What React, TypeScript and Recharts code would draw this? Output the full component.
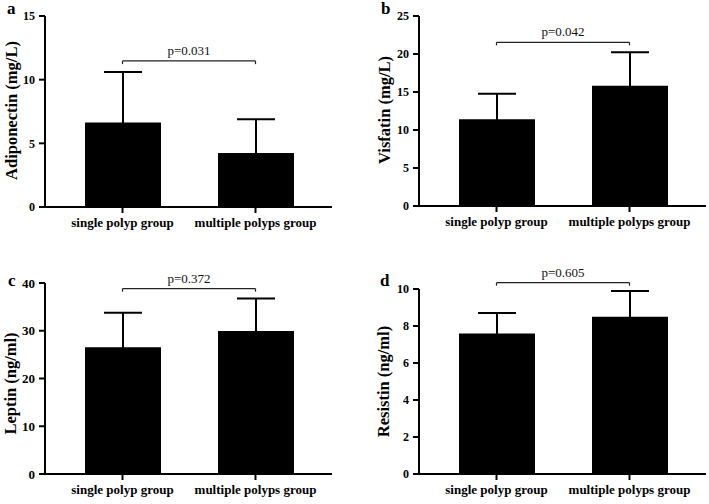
import { BarChart, Bar, XAxis, YAxis, ErrorBar, ReferenceLine } from "recharts";

// categories shared by all four panels
const groups = ["single polyp group", "multiple polyps group"];

// panel a
const adiponectinMean = [6.63, 4.25];
const adiponectinSd = [3.97, 2.65];
const adiponectinTicks = [0, 5, 10, 15];

// panel b
const visfatinMean = [11.4, 15.83];
const visfatinSd = [3.38, 4.39];
const visfatinTicks = [0, 5, 10, 15, 20, 25];

// panel c
const leptinMean = [26.57, 29.93];
const leptinSd = [7.21, 6.85];
const leptinTicks = [0, 10, 20, 30, 40];

// panel d
const resistinMean = [7.6, 8.5];
const resistinSd = [1.1, 1.39];
const resistinTicks = [0, 2, 4, 6, 8, 10];

// p values and bracket heights (in axis units)
const pValues = ["p=0.031", "p=0.042", "p=0.372", "p=0.605"];
const bracketY = [11.47, 21.54, 38.81, 10.34];
const bracketDrop = [0.25, 0.4, 0.63, 0.16];

const FONT = "'Liberation Serif', 'Times New Roman', serif";

type PanelProps = {
  label: string;
  means: number[];
  sds: number[];
  ticks: number[];
  idx: number;
  left: number;
  top: number;
  width: number;
  axisW: number;
  margin: { top: number; right: number; bottom: number; left: number };
  tickSize: number;
  labelX: number;
  labelShift: number;
};

function Panel(p: PanelProps) {
  const data = groups.map((g, i) => ({ name: g, value: p.means[i], sd: p.sds[i] }));
  const yTop = bracketY[p.idx];
  const yDrop = yTop - bracketDrop[p.idx];
  const max = p.ticks[p.ticks.length - 1];

  return (
    <div style={{ position: "absolute", left: p.left, top: p.top }}>
      <BarChart width={p.width} height={252} data={data} margin={p.margin}>
        <XAxis
          dataKey="name"
          height={30}
          padding={{ left: 11, right: 10 }}
          axisLine={{ stroke: "#000", strokeWidth: 2 }}
          tickLine={{ stroke: "#000", strokeWidth: 2 }}
          tickSize={6}
          tickMargin={5}
          interval={0}
          tick={{ fill: "#000", fontSize: 13, fontWeight: "bold", fontFamily: FONT }}
        />
        <YAxis
          width={p.axisW}
          domain={[0, max]}
          ticks={p.ticks}
          interval={0}
          axisLine={{ stroke: "#000", strokeWidth: 2 }}
          tickLine={{ stroke: "#000", strokeWidth: 2 }}
          tickSize={6}
          tickMargin={4}
          tick={{ fill: "#000", fontSize: p.tickSize, fontWeight: "bold", fontFamily: FONT }}
          label={{
            content: (props: any) => {
              const vb = props.viewBox;
              const cx = p.labelX;
              const cy = vb.y + vb.height / 2 + p.labelShift;
              return (
                <text
                  x={cx}
                  y={cy}
                  transform={`rotate(-90, ${cx}, ${cy})`}
                  textAnchor="middle"
                  dominantBaseline="central"
                  fill="#000"
                  fontSize={16.5}
                  fontWeight="bold"
                  fontFamily={FONT}
                >
                  {p.label}
                </text>
              );
            },
          }}
        />
        <Bar dataKey="value" fill="#000" barSize={76} isAnimationActive={false}>
          <ErrorBar dataKey="sd" width={19} strokeWidth={2} stroke="#000" direction="y" />
        </Bar>
        <ReferenceLine
          ifOverflow="visible"
          segment={[
            { x: groups[0], y: yTop },
            { x: groups[1], y: yTop },
          ]}
          stroke="#222"
          strokeWidth={1.2}
          label={{
            value: pValues[p.idx],
            position: "top",
            offset: 6,
            fill: "#111",
            fontSize: 13,
            fontFamily: FONT,
          }}
        />
        <ReferenceLine
          ifOverflow="visible"
          segment={[
            { x: groups[0], y: yTop },
            { x: groups[0], y: yDrop },
          ]}
          stroke="#222"
          strokeWidth={1.2}
        />
        <ReferenceLine
          ifOverflow="visible"
          segment={[
            { x: groups[1], y: yTop },
            { x: groups[1], y: yDrop },
          ]}
          stroke="#222"
          strokeWidth={1.2}
        />
      </BarChart>
    </div>
  );
}

export default function App() {
  return (
    <div style={{ position: "absolute", left: 0, top: 0, width: 709, height: 504, background: "#fff" }}>
      <Panel
        label="Adiponectin (mg/L)"
        means={adiponectinMean}
        sds={adiponectinSd}
        ticks={adiponectinTicks}
        idx={0}
        left={0}
        top={0}
        width={354}
        axisW={45}
        margin={{ top: 16, right: 22, bottom: 15, left: 0 }}
        tickSize={12}
        labelX={11}
        labelShift={-1}
      />
      <Panel
        label="Visfatin (mg/L)"
        means={visfatinMean}
        sds={visfatinSd}
        ticks={visfatinTicks}
        idx={1}
        left={354}
        top={0}
        width={355}
        axisW={65}
        margin={{ top: 16, right: 3, bottom: 16, left: 0 }}
        tickSize={12}
        labelX={30}
        labelShift={-1}
      />
      <Panel
        label="Leptin (ng/ml)"
        means={leptinMean}
        sds={leptinSd}
        ticks={leptinTicks}
        idx={2}
        left={0}
        top={252}
        width={354}
        axisW={45}
        margin={{ top: 31, right: 22, bottom: 0, left: 0 }}
        tickSize={13}
        labelX={10}
        labelShift={5}
      />
      <Panel
        label="Resistin (ng/ml)"
        means={resistinMean}
        sds={resistinSd}
        ticks={resistinTicks}
        idx={3}
        left={354}
        top={252}
        width={355}
        axisW={65}
        margin={{ top: 37, right: 3, bottom: 0, left: 0 }}
        tickSize={12}
        labelX={29}
        labelShift={0}
      />
      <svg
        width={709}
        height={504}
        style={{ position: "absolute", left: 0, top: 0, pointerEvents: "none" }}
      >
        <g fill="#000" fontSize={17} fontWeight="bold" fontFamily={FONT}>
          <text x={7} y={13.5}>a</text>
          <text x={381} y={14}>b</text>
          <text x={8} y={285.5}>c</text>
          <text x={380} y={286}>d</text>
        </g>
      </svg>
    </div>
  );
}
